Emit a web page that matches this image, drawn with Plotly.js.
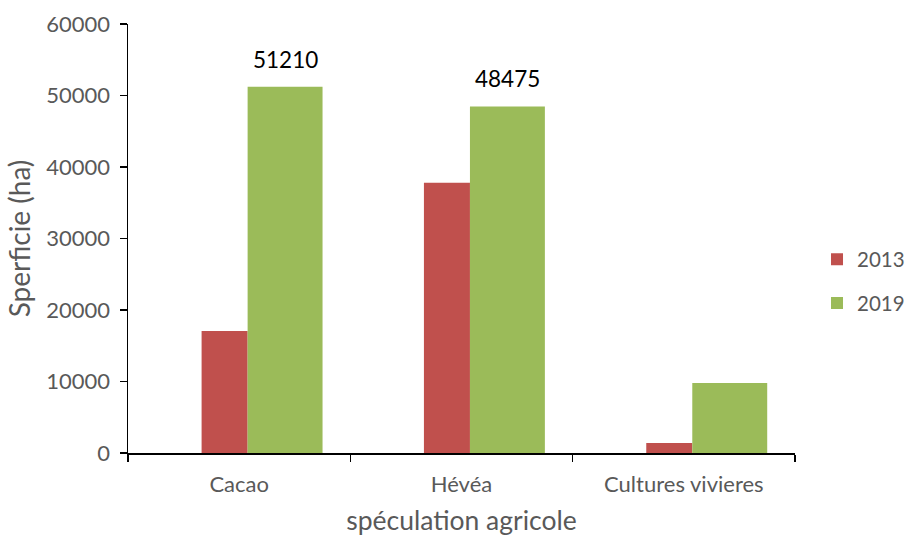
<!DOCTYPE html>
<html>
<head>
<meta charset="utf-8">
<script src="https://cdn.plot.ly/plotly-3.0.1.min.js"></script>
<style>html,body{margin:0;padding:0;background:#fff;}#chart{width:906px;height:536px;}</style>
</head>
<body>
<div id="chart"></div>
<script>
const categories = ["Cacao", "Hévéa", "Cultures vivieres"];
const seriesNames = ["2013", "2019"];
const values2013 = [17050, 37800, 1400];
const values2019 = [51210, 48475, 9800];
const labeledIdx = [0, 1];
const yTicks = [0, 10000, 20000, 30000, 40000, 50000, 60000];

const red = "#C0504D", green = "#9BBB59";
const font = "Lato, 'Open Sans', sans-serif";

const traces = [
  {type: "bar", name: seriesNames[0], x: categories, y: values2013,
   marker: {color: red}, width: 0.207, offset: -0.169,
   legendgroup: "a", hoverinfo: "y"},
  {type: "bar", name: seriesNames[1], x: categories, y: values2019,
   marker: {color: green}, width: 0.337, offset: 0.038,
   legendgroup: "b", hoverinfo: "y"}
];

const annotations = labeledIdx.map(i => ({
  x: i + 0.038 + 0.337 / 2, y: values2019[i], xref: "x", yref: "y",
  text: String(values2019[i]), showarrow: false, yanchor: "bottom", yshift: 12,
  font: {family: font, size: 22.5, color: "#000"}
}));

const layout = {
  width: 906, height: 536,
  margin: {l: 128, r: 111, t: 24, b: 83, autoexpand: false},
  paper_bgcolor: "#fff", plot_bgcolor: "#fff",
  barmode: "overlay",
  font: {family: font, color: "#595959", size: 20},
  showlegend: true,
  legend: {x: 1.033, xanchor: "left", y: 0.40, yanchor: "middle",
           font: {family: font, size: 20.5, color: "#595959"},
           traceorder: "grouped", tracegroupgap: 14, itemwidth: 30},
  xaxis: {
    type: "category", range: [-0.5, 2.5], automargin: false,
    showline: true, linecolor: "#000", linewidth: 1.5,
    ticks: "outside", tickson: "boundaries", ticklen: 7, tickcolor: "#000", tickwidth: 1.5,
    ticklabelstandoff: 11,
    tickfont: {family: font, size: 22, color: "#595959"},
    showgrid: false, zeroline: false,
    title: {text: "spéculation agricole", standoff: 17, font: {family: font, size: 26.5, color: "#595959"}}
  },
  yaxis: {
    range: [0, 60000], tickvals: yTicks, ticktext: yTicks.map(String), automargin: false,
    showline: true, linecolor: "#000", linewidth: 1.5,
    ticks: "outside", ticklen: 7, tickcolor: "#000", tickwidth: 1.5,
    ticklabelstandoff: 5,
    tickfont: {family: font, size: 22, color: "#595959"},
    showgrid: false, zeroline: false,
    title: {text: "Sperficie (ha)", standoff: 7, font: {family: font, size: 28, color: "#595959"}}
  },
  annotations: annotations
};

Plotly.newPlot("chart", traces, layout, {displayModeBar: false, staticPlot: true});
</script>
</body>
</html>
